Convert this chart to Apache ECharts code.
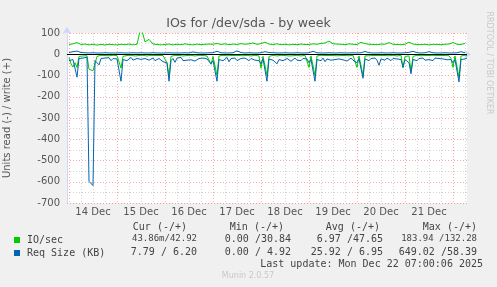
<!DOCTYPE html>
<html><head><meta charset="utf-8">
<script src="https://cdn.jsdelivr.net/npm/echarts@6/dist/echarts.min.js"></script>
<style>html,body{margin:0;padding:0;background:#F0F0F0}#c{width:497px;height:287px}</style>
</head><body><div id="c"></div>
<script>
// day labels (x axis), placed at noon of each day
const dayLabels = ['14 Dec','15 Dec','16 Dec','17 Dec','18 Dec','19 Dec','20 Dec','21 Dec'];
// write side: samples every 2 hours starting Mon Dec 14 00:00
const writeIO = [
  46,49,55,46,48,44,47,43,46,44,47,45,
  44,47,45,48,44,47,128,58,70,48,46,44,
  46,48,44,47,45,49,46,44,48,45,47,48,
  47,51,46,49,45,48,46,50,47,49,53,47,
  50,57,48,46,49,45,47,44,47,45,48,46,
  46,49,47,51,53,62,49,48,47,45,49,47,
  46,56,50,47,46,45,48,47,55,47,46,45,
  47,57,48,46,45,47,44,47,46,45,47,48,
  55,47,46,51];
const writeSize = [
  8,12,15,8,7,6,7,6,6,7,6,6,
  6,7,6,6,7,6,7,6,6,7,6,6,
  6,7,6,6,6,7,6,11,7,6,6,7,
  7,14,7,6,6,7,16,8,6,7,6,6,
  7,12,8,7,6,6,7,6,6,7,6,6,
  7,14,7,6,6,7,6,6,7,6,6,7,
  6,7,13,7,6,6,7,6,6,7,6,6,
  7,9,14,7,6,7,12,7,6,6,7,6,
  6,7,12,7];
// read side: hourly samples starting Mon Dec 14 00:00 (one row per day)
const readIO = [
  15,45,60,40,62,10,6,8,5,7,70,78,78,76,10,6,5,8,6,5,7,6,5,8,
  6,8,65,10,5,6,7,5,6,8,5,6,7,5,6,8,6,5,7,6,5,6,8,6,
  8,40,105,10,6,5,7,6,5,8,6,6,7,5,6,8,6,5,7,6,5,8,6,47,
  10,8,100,8,6,5,6,7,5,6,5,6,8,6,5,7,6,5,6,8,6,5,7,8,
  66,10,8,100,10,6,5,6,8,6,5,7,6,6,8,5,7,6,5,6,8,6,5,7,
  62,8,6,100,8,6,5,7,6,5,6,8,6,6,7,5,6,8,6,5,7,6,5,6,
  62,8,6,100,8,6,7,5,6,8,6,5,6,8,6,5,7,6,5,6,8,6,5,65,
  10,6,8,80,10,6,5,6,7,5,6,8,6,6,5,7,6,5,6,8,6,5,7,20,
  62,8,10,110,8,6,5,7];
const readSize = [
  30,33,25,28,108,20,15,18,25,14,598,602,618,30,22,50,20,28,18,24,16,30,20,18,
  22,30,127,25,18,30,22,15,28,35,20,18,24,30,20,16,28,22,18,30,24,20,26,35,
  28,40,127,30,20,38,18,25,15,30,22,28,20,26,18,32,24,20,28,18,25,22,30,45,
  30,25,127,25,18,30,22,15,35,20,25,18,30,22,20,28,18,24,30,20,16,28,22,30,
  45,22,28,127,22,18,28,20,45,25,18,30,22,20,26,33,24,18,28,22,30,20,25,22,
  40,25,22,127,25,20,30,18,35,22,18,28,20,25,30,22,18,26,20,32,24,18,28,22,
  40,22,25,113,22,18,30,20,25,18,28,52,22,20,28,18,24,30,20,26,22,18,25,60,
  25,30,40,92,25,18,30,20,22,18,28,20,25,22,30,18,24,20,28,22,18,26,20,25,
  40,25,30,130,25,20,22,18];
const seriesNames = ['IO/sec','Req Size (KB)'];
const colHeads = ['Cur (-/+)','Min (-/+)','Avg (-/+)','Max (-/+)'];
const rowIO = ['43.86m/42.92','0.00 /30.84','6.97 /47.65','183.94 /132.28'];
const rowSize = ['7.79 / 6.20','0.00 / 4.92','25.92 / 6.95','649.02 /58.39'];
const lastUpdate = 'Last update: Mon Dec 22 07:00:06 2025';

const GREEN = '#00CC00', BLUE = '#0066B3';
const cats = Array.from({length: 201}, (_, k) => String(k)); // hourly from Dec 13 23:00
const pts2h = (arr, sign) => arr.map((v, i) => [1 + 2 * i, sign * v]);
const pts1h = (arr, sign) => arr.map((v, j) => [1 + j, sign * v]);

const mono = 'DejaVu Sans Mono';
const txt = (x, y, text, align, size) => ({
  type: 'text', x: x, y: y, silent: true,
  style: {text: text, textAlign: align, textVerticalAlign: 'middle',
          font: (size || 10) + 'px "' + mono + '"', fill: '#444'}
});

const headR = [187, 284, 380, 477];
const valR = [197, 291, 383, 477];
const graphics = [];
colHeads.forEach((h, k) => graphics.push(txt(headR[k], 227, h, 'right')));
rowIO.forEach((v, k) => graphics.push(txt(valR[k], 239, v, 'right', v.length > 11 ? 9 : 10)));
rowSize.forEach((v, k) => graphics.push(txt(valR[k], 252, v, 'right')));
graphics.push({type: 'rect', shape: {x: 14, y: 237, width: 6, height: 6}, style: {fill: GREEN}});
graphics.push({type: 'rect', shape: {x: 14, y: 250, width: 6, height: 6}, style: {fill: BLUE}});
graphics.push(txt(27, 240, seriesNames[0], 'left'));
graphics.push(txt(27, 253, seriesNames[1], 'left'));
graphics.push(txt(483, 264, lastUpdate, 'right'));
graphics.push({type: 'text', x: 248, y: 276, silent: true,
  style: {text: 'Munin 2.0.57', textAlign: 'center', textVerticalAlign: 'middle', font: '8px "DejaVu Sans"', fill: '#C8C8C8'}});
graphics.push({type: 'text', x: 489, y: 63, rotation: -Math.PI / 2, silent: true,
  style: {text: 'RRDTOOL / TOBI OETIKER', textAlign: 'center', textVerticalAlign: 'middle', font: '8px "DejaVu Sans"', fill: '#C8C8C8'}});

const chart = echarts.init(document.getElementById('c'), null, {renderer: 'canvas'});
chart.setOption({
  backgroundColor: '#F0F0F0',
  animation: false,
  title: {text: 'IOs for /dev/sda - by week', left: 'center', top: 12,
    textStyle: {fontFamily: 'DejaVu Sans', fontSize: 12.6, fontWeight: 'normal', color: '#555'}},
  grid: {left: 67, right: 30, top: 33, bottom: 84, containLabel: false, outerBoundsMode: 'none',
    show: true, backgroundColor: '#FFFFFF', borderWidth: 0},
  xAxis: [{
    type: 'category', data: cats, boundaryGap: false,
    axisLine: {show: true, lineStyle: {color: '#CFD6F8', width: 1}, symbol: ['none', 'arrow'], symbolSize: [7, 7], symbolOffset: [0, 4]},
    axisTick: {show: false},
    axisLabel: {interval: (idx) => (idx - 13) % 24 === 0 && idx >= 13,
      formatter: (v) => dayLabels[Math.round((Number(v) - 13) / 24)] || '',
      fontFamily: 'DejaVu Sans', fontSize: 10, color: '#555', margin: 4},
    splitLine: {show: true, interval: (idx) => (idx - 1) % 24 === 0,
      lineStyle: {color: 'rgba(255,0,0,0.35)', type: [1, 2], width: 1}}
  }, {
    type: 'category', data: cats, boundaryGap: false, position: 'bottom',
    axisLine: {show: false}, axisTick: {show: false}, axisLabel: {show: false},
    splitLine: {show: true, interval: (idx) => (idx - 1) % 6 === 0 && (idx - 1) % 24 !== 0,
      lineStyle: {color: 'rgba(128,128,128,0.35)', type: [1, 2], width: 1}}
  }],
  yAxis: {
    type: 'value', min: -700, max: 100, interval: 100,
    name: 'Units read (-) / write (+)', nameLocation: 'middle', nameGap: 55, nameRotate: 90,
    nameTextStyle: {fontFamily: 'DejaVu Sans', fontSize: 10, color: '#555'},
    axisLine: {show: true, lineStyle: {color: '#CFD6F8', width: 1}, symbol: ['none', 'arrow'], symbolSize: [7, 7], symbolOffset: [0, 6]},
    axisTick: {show: false},
    axisLabel: {fontFamily: 'DejaVu Sans', fontSize: 10, color: '#555', margin: 7},
    splitLine: {show: true, lineStyle: {color: 'rgba(255,0,0,0.35)', type: [1, 2], width: 1}},
    minorTick: {show: false, splitNumber: 2},
    minorSplitLine: {show: true, lineStyle: {color: 'rgba(128,128,128,0.35)', type: [1, 2], width: 1}}
  },
  series: [
    {type: 'line', name: 'readIO', data: pts1h(readIO, -1), showSymbol: false, lineStyle: {color: GREEN, width: 1}, itemStyle: {color: GREEN}, z: 3},
    {type: 'line', name: 'readSize', data: pts1h(readSize, -1), showSymbol: false, lineStyle: {color: BLUE, width: 1}, itemStyle: {color: BLUE}, z: 4},
    {type: 'line', name: 'writeIO', data: pts2h(writeIO, 1), showSymbol: false, lineStyle: {color: GREEN, width: 1}, itemStyle: {color: GREEN}, z: 3},
    {type: 'line', name: 'writeSize', data: pts2h(writeSize, 1), showSymbol: false, lineStyle: {color: BLUE, width: 1}, itemStyle: {color: BLUE}, z: 4,
      markLine: {silent: true, symbol: ['none', 'none'], label: {show: false}, animation: false,
        lineStyle: {color: '#000', width: 1, type: 'solid'}, data: [{yAxis: 0}]}}
  ],
  graphic: graphics
});
</script></body></html>
